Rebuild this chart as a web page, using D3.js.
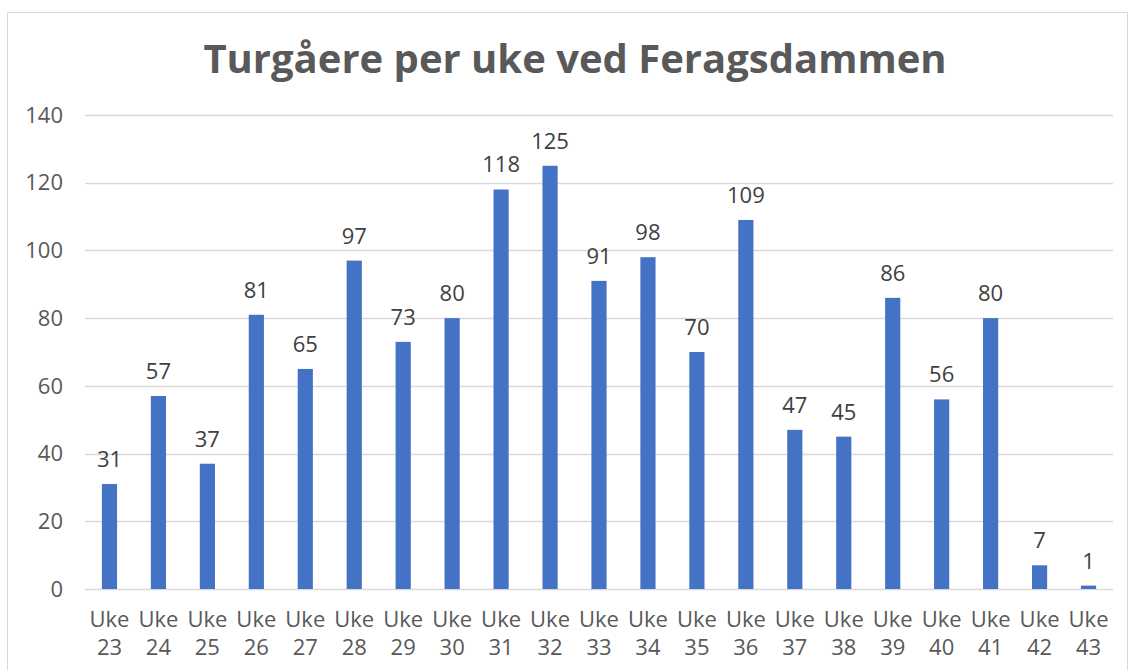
<!DOCTYPE html>
<html lang="no">
<head>
  <meta charset="UTF-8">
  <title>Turgåere per uke ved Feragsdammen</title>
  <script src="https://d3js.org/d3.v7.min.js"></script>
  <style>
    body { margin: 0; background: #fff; }
    text { font-family: "Open Sans", "DejaVu Sans", sans-serif; }
    .tick-label { font-size: 22px; fill: #595959; }
    .value-label { font-size: 22px; fill: #404040; }
    .title { font-size: 40px; font-weight: bold; fill: #595959; }
  </style>
</head>
<body>
  <div id="chart"></div>
  <script>
    // data
    const weeks = ["23", "24", "25", "26", "27", "28", "29", "30", "31", "32", "33",
                   "34", "35", "36", "37", "38", "39", "40", "41", "42", "43"];
    const walkers = [31, 57, 37, 81, 65, 97, 73, 80, 118, 125, 91,
                     98, 70, 109, 47, 45, 86, 56, 80, 7, 1];
    const yTicks = [0, 20, 40, 60, 80, 100, 120, 140];

    const width = 1131, height = 670;
    const plot = { left: 85, right: 1113, top: 115, bottom: 589 };

    const svg = d3.select("#chart")
                  .append("svg")
                  .attr("width", width)
                  .attr("height", height);

    // chart border
    svg.append("rect")
       .attr("x", 7.5).attr("y", 12.5)
       .attr("width", 1120).attr("height", 670)
       .attr("fill", "#fff")
       .attr("stroke", "#d9d9d9");

    const x = d3.scaleBand()
                .domain(weeks)
                .range([plot.left, plot.right])
                .paddingInner(0.69)
                .paddingOuter(0.345);

    const y = d3.scaleLinear()
                .domain([0, 140])
                .range([plot.bottom, plot.top]);

    // gridlines
    svg.append("g")
       .selectAll("line")
       .data(yTicks)
       .join("line")
       .attr("x1", plot.left).attr("x2", plot.right)
       .attr("y1", d => Math.round(y(d)) + 0.5)
       .attr("y2", d => Math.round(y(d)) + 0.5)
       .attr("stroke", "#d9d9d9")
       .attr("stroke-width", 1.3);

    // y tick labels
    svg.append("g")
       .selectAll("text")
       .data(yTicks)
       .join("text")
       .attr("class", "tick-label")
       .attr("x", 63)
       .attr("y", d => y(d))
       .attr("dy", "0.35em")
       .attr("text-anchor", "end")
       .text(d => d);

    // bars
    svg.append("g")
       .selectAll("rect")
       .data(walkers)
       .join("rect")
       .attr("x", (d, i) => x(weeks[i]))
       .attr("y", d => y(d))
       .attr("width", x.bandwidth())
       .attr("height", d => y(0) - y(d))
       .attr("fill", "#4472c4");

    // value labels
    svg.append("g")
       .selectAll("text")
       .data(walkers)
       .join("text")
       .attr("class", "value-label")
       .attr("x", (d, i) => x(weeks[i]) + x.bandwidth() / 2)
       .attr("y", d => y(d) - 17)
       .attr("text-anchor", "middle")
       .text(d => d);

    // x category labels (two lines)
    const xl = svg.append("g")
       .selectAll("text")
       .data(weeks)
       .join("text")
       .attr("class", "tick-label")
       .attr("x", d => x(d) + x.bandwidth() / 2)
       .attr("y", 627)
       .attr("text-anchor", "middle");
    xl.append("tspan").text("Uke");
    xl.append("tspan")
      .attr("x", d => x(d) + x.bandwidth() / 2)
      .attr("dy", 28)
      .text(d => d);

    // title
    svg.append("text")
       .attr("class", "title")
       .attr("x", 575)
       .attr("y", 73)
       .attr("text-anchor", "middle")
       .text("Turgåere per uke ved Feragsdammen");
  </script>
</body>
</html>
